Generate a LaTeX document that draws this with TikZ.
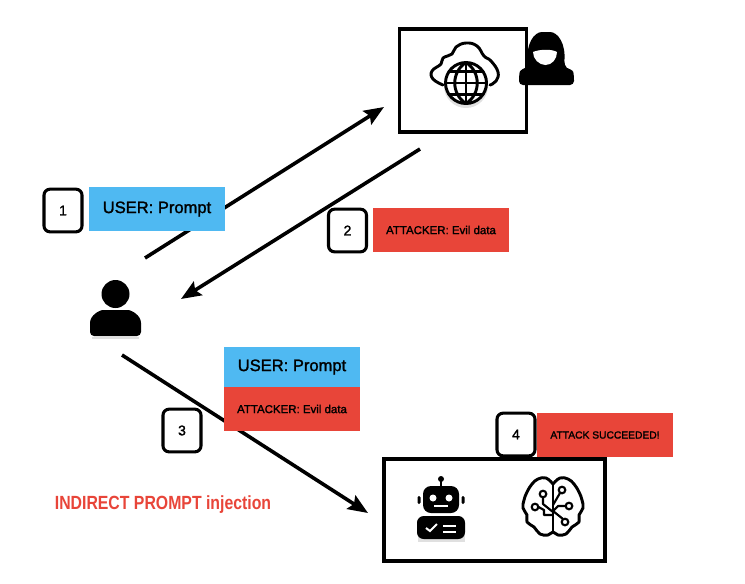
\documentclass[tikz,border=0pt]{standalone}
\usepackage{fontspec}
\setmainfont{Liberation Sans}
\newfontfamily\labelfont[FakeBold=1.6]{Liberation Sans}
\usetikzlibrary{arrows.meta}
\definecolor{userblue}{HTML}{4FB9F2}
\definecolor{evilred}{HTML}{E84539}
\tikzset{
  flow/.style={line width=2.7pt,-{Stealth[length=15pt,width=12pt,inset=2.5pt]}},
  panel/.style={draw=black,line width=2.7pt,fill=white,inner sep=0pt},
  badge/.style={draw=black,line width=2.3pt,fill=white,rounded corners=4.5pt,inner sep=0pt,minimum width=28.5pt,minimum height=32pt,font=\labelfont\fontsize{10.5}{12}\selectfont},
  usermsg/.style={fill=userblue,inner sep=0pt,minimum width=102pt,minimum height=33pt,font=\labelfont\fontsize{12.4}{15}\selectfont},
  evilmsg/.style={fill=evilred,inner sep=0pt,minimum width=102pt,minimum height=33pt,font=\labelfont\fontsize{8.6}{10}\selectfont},
  icon/.style={line width=2.2pt,line join=round,line cap=round},
  haze/.style={black,opacity=0.12},
}
\begin{document}
\begin{tikzpicture}[x=0.75pt,y=-0.75pt]
\useasboundingbox (0,0) rectangle (745,583);

% Ends of the three connectors
\coordinate (userout) at (145,258);
\coordinate (webin) at (384,107);
\coordinate (webout) at (420,149);
\coordinate (userin) at (181,299);
\coordinate (userdown) at (122,355);
\coordinate (agentin) at (368,513);

% Connectors go behind the messages
\draw[flow] (userout) -- (webin);
\draw[flow] (webout) -- (userin);
\draw[flow] (userdown) -- (agentin);

% Panels
\node[panel,minimum width=95pt,minimum height=77pt] (webbox) at (463,80.5) {};
\node[panel,minimum width=166pt,minimum height=76.5pt] (agentbox) at (494.5,510) {};

% Messages
\node[usermsg] (prompta) at (157,209) {USER: Prompt};
\node[evilmsg] (evila) at (441,230) {ATTACKER: Evil data};
\node[usermsg,minimum height=30pt] (promptb) at (292,367) {USER: Prompt};
\node[evilmsg] (evilb) at (292,409) {ATTACKER: Evil data};
\node[evilmsg,font=\labelfont\fontsize{7.7}{10}\selectfont] (success) at (605,435) {ATTACK SUCCEEDED!};

% Step numbers
\node[badge] (stepa) at (63,210.5) {1};
\node[badge] (stepb) at (347.5,230.5) {2};
\node[badge] (stepc) at (182,430.5) {3};
\node[badge] (stepd) at (516,434.5) {4};

% Title
\node[text=evilred,inner sep=0pt,xscale=0.83,font=\bfseries\fontsize{14.3}{16}\selectfont] (title) at (163,505) {INDIRECT PROMPT injection};

% User icon
\fill[haze] (92,337) rectangle (139,339);
\fill (115.5,294) circle (14);
\fill[rounded corners=3pt] (90,336) -- (90,327) .. controls (90,315) and (100,310) .. (107,310)
   -- (124,310) .. controls (131,310) and (141,315) .. (141,327) -- (141,336) -- cycle;

% Cloud with globe
\draw[icon] plot[smooth,tension=0.75] coordinates {(443,85) (433,79) (432,71) (441,64) (443,58) (452,54) (456,47) (466,43) (477,46) (484,56) (491,61) (498,72) (496,81) (490,85)};
\fill[haze] (466,86) circle (22);
\filldraw[icon,fill=white] (466,83) circle (20.5);
\draw[icon] (466,62.5) -- (466,103.5) (445.5,83) -- (486.5,83);
\draw[icon] (466,62.5) .. controls (451,72) and (451,94) .. (466,103.5);
\draw[icon] (466,62.5) .. controls (481,72) and (481,94) .. (466,103.5);
\draw[icon] (449,71.5) -- (483,71.5) (449,94.5) -- (483,94.5);

% Hooded attacker
\fill[rounded corners=3pt] (519,85) -- (519,76) .. controls (520,70) and (525,68) .. (528,65)
   .. controls (526,44) and (534,32) .. (546,32) .. controls (558,32) and (566,44) .. (564,65)
   .. controls (567,68) and (573,70) .. (574,76) -- (574,85) -- cycle;
\fill[white] (533,52) .. controls (540,49) and (552,49) .. (557,52) .. controls (557,59) and (552,65) .. (545.5,65)
   .. controls (539,65) and (533,59) .. (533,52) -- cycle;

% Robot
\fill[rounded corners=6pt] (423,486) rectangle (459,513);
\fill (441,479) circle (3);
\draw[line width=1.4pt] (441,480) -- (441,486);
\fill[rounded corners=1pt] (417.5,496) rectangle (420.5,504) (461.5,496) rectangle (464.5,504);
\fill[white] (433,498) circle (3.5) (449,498) circle (3.5);
\draw[white,line width=0.8pt] (434,506) -- (448,506);
\fill[haze] (418,535) rectangle (465,542);
\fill[rounded corners=5pt] (417,516) rectangle (465,539);
\draw[white,line width=1.5pt] (426,528) -- (430,531) -- (437,524);
\draw[white,line width=1.5pt] (443,526) -- (456,526) (443,532) -- (456,532);

% Brain
\draw[icon] plot[smooth,tension=0.7] coordinates {(553,484) (546,478) (538,479) (532,484) (527,492) (524,500) (523,508) (527,515) (527,522) (534,527) (540,534) (548,535) (553,532)
   (558,535) (566,534) (572,527) (579,522) (579,515) (583,508) (582,500) (579,492) (574,484) (568,479) (560,478) (553,484)};
\draw[icon] (553,484) -- (553,532);
\draw[line width=1.6pt,line join=round] (543,498) -- (543,504) -- (553,512)
   (538.5,507) -- (544,510) -- (544,515) -- (553,515)
   (560,493) -- (553,505)
   (566,506) -- (558,506) -- (553,511)
   (563,519) -- (553,511);
\foreach \bx/\by/\bname in {543/494/a,562/490/b,569/506/c,535/507/d,565/522/e}
  \draw[line width=1.6pt,fill=white] (\bx,\by) circle (3.3) coordinate (bulb\bname);
\end{tikzpicture}
\end{document}
